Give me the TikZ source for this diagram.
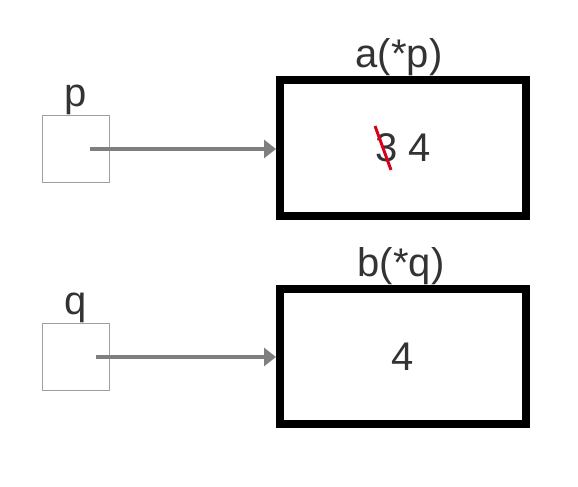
\documentclass[tikz,border=0pt]{standalone}
\usepackage{fontspec}
\setmainfont{Liberation Sans}
\usetikzlibrary{arrows.meta,positioning}
\definecolor{textgray}{HTML}{333333}
\definecolor{boxgray}{HTML}{A0A0A0}
\definecolor{arrowgray}{HTML}{7F7F7F}
\definecolor{strikered}{HTML}{D9001B}
\tikzset{
    every node/.style={align=center,text=textgray,font=\fontsize{40}{44}\selectfont,},
    pointer/.style={draw=boxgray,line width=1pt,minimum size=67pt,inner sep=0pt,},
    cell/.style={draw=black,line width=8pt,minimum width=246pt,minimum height=136pt,inner sep=0pt,},
    varname/.style={inner sep=0pt,},
    link/.style={draw=arrowgray,line width=3.5pt,-{Triangle[length=12pt,width=18pt]},},
    strike/.style={draw=strikered,line width=3pt,},
}

\begin{document}
\begin{tikzpicture}[x=1pt,y=1pt]
        \useasboundingbox (0,0) rectangle (578,487);

        \node[pointer] (p) at (75.5,338) {};
        \node[cell] (a) at (403,339) {3 4};
        \node[varname,above=0pt of p] (p_name) {p};
        \node[varname,above=0pt of a,xshift=-4pt] (a_name) {a(*p)};

        \node[pointer] (q) at (75.5,130) {};
        \node[cell,minimum height=135pt] (b) at (403,130) {4};
        \node[varname,above=0pt of q] (q_name) {q};
        \node[varname,above=0pt of b,xshift=-2pt] (b_name) {b(*q)};

        \draw[strike] ([shift={(-28,22)}]a.center) to ([shift={(-12,-22)}]a.center);

        \draw[link] ([xshift=14]p.center) to (a.west |- p.center);
        \draw[link] ([xshift=20]q.center) to (b);
    \end{tikzpicture}
\end{document}
